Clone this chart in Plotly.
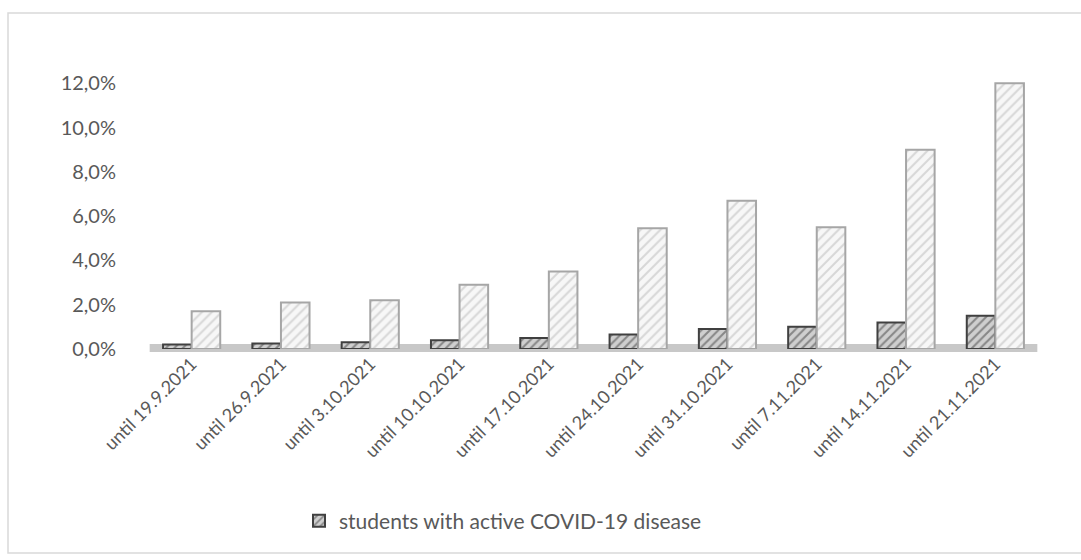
import plotly.graph_objects as go

categories = ["until 19.9.2021", "until 26.9.2021", "until 3.10.2021", "until 10.10.2021",
              "until 17.10.2021", "until 24.10.2021", "until 31.10.2021", "until 7.11.2021",
              "until 14.11.2021", "until 21.11.2021"]
active_covid = [0.002, 0.0025, 0.003, 0.004, 0.005, 0.0065, 0.009, 0.010, 0.012, 0.015]
second_series = [0.017, 0.021, 0.022, 0.029, 0.035, 0.0545, 0.067, 0.055, 0.090, 0.120]
tick_vals = [0, 0.02, 0.04, 0.06, 0.08, 0.10, 0.12]

FONT = "Lato"
TXT = "#595959"

fig = go.Figure()
fig.add_trace(go.Bar(
    x=categories, y=active_covid, name="students with active COVID-19 disease",
    marker=dict(color="#c8c8c8",
                line=dict(color="#404040", width=2),
                pattern=dict(shape="/", fgcolor="#404040", bgcolor="#cfcfcf", size=6, solidity=0.35)),
    showlegend=True,
))
fig.add_trace(go.Bar(
    x=categories, y=second_series, name="series 2",
    marker=dict(color="#f2f2f2",
                line=dict(color="#a6a6a6", width=2),
                pattern=dict(shape="/", fgcolor="#b8b8b8", bgcolor="#f7f7f7", size=7, solidity=0.3)),
    showlegend=False,
))

L, R, T, B = 147, 41, 70, 211
W, H = 1081, 560
pw, ph = W - L - R, H - T - B

shapes = [
    # floor band
    dict(type="rect", xref="paper", yref="paper", x0=0.003, x1=0.997,
         y0=-3 / ph, y1=5 / ph, fillcolor="#c8c8c8", line=dict(width=0), layer="below"),
    # chart border
    dict(type="rect", xref="paper", yref="paper",
         x0=(8 - L) / pw, x1=(1200 - L) / pw,
         y0=(T + ph - 553) / ph, y1=(T + ph - 13) / ph,
         line=dict(color="#d9d9d9", width=1.5), fillcolor="rgba(0,0,0,0)", layer="below"),
]

fig.update_layout(
    width=W, height=H,
    margin=dict(l=L, r=R, t=T, b=B),
    paper_bgcolor="white", plot_bgcolor="white",
    separators=",.",
    barmode="group", bargap=0.36, bargroupgap=0.0,
    font=dict(family=FONT, size=19, color=TXT),
    showlegend=True,
    legend=dict(orientation="h", x=(503 - L) / pw, xanchor="center",
                y=(T + ph - 521) / ph, yanchor="middle",
                font=dict(family=FONT, size=21, color=TXT),
                itemwidth=30, bgcolor="rgba(0,0,0,0)"),
    shapes=shapes,
)
fig.update_xaxes(showline=False, showgrid=False, zeroline=False,
                 tickangle=-45, ticks="", 
                 tickfont=dict(family=FONT, size=18, color=TXT))
fig.update_yaxes(range=[0, 0.126], tickvals=tick_vals, tickformat=".1%",
                 showline=False, showgrid=False, zeroline=False,
                 ticks="outside", ticklen=26, tickcolor="rgba(0,0,0,0)",
                 tickfont=dict(family=FONT, size=20, color=TXT))

fig.write_html("out.html")
